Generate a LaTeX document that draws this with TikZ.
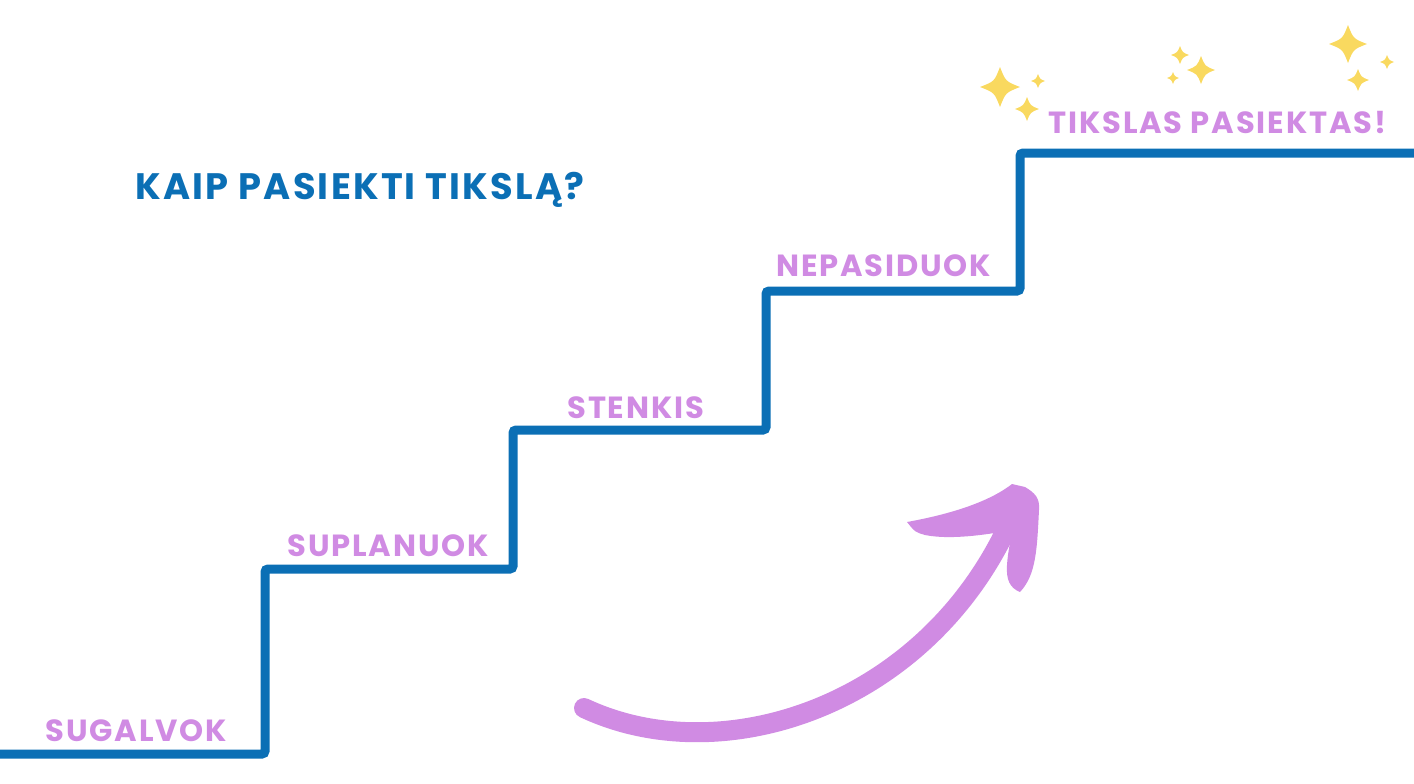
\documentclass[tikz,border=0pt]{standalone}
\usepackage{fontspec}
\setmainfont{Poppins}[BoldFont={* Bold}]
\definecolor{stairblue}{HTML}{0B6FB5}
\definecolor{lilac}{HTML}{D08BE3}
\definecolor{gold}{HTML}{F9D95F}
\newcommand{\sparkle}[3]{% x y r
  \fill[gold] (#1,#2-#3) .. controls (#1+0.28*#3,#2-0.28*#3) .. (#1+#3,#2)
    .. controls (#1+0.28*#3,#2+0.28*#3) .. (#1,#2+#3)
    .. controls (#1-0.28*#3,#2+0.28*#3) .. (#1-#3,#2)
    .. controls (#1-0.28*#3,#2-0.28*#3) .. (#1,#2-#3) -- cycle;}
\begin{document}
\begin{tikzpicture}[x=0.5pt,y=-0.5pt,
  stairline/.style={draw=stairblue,line width=4.5pt,rounded corners=1.5pt},
  steplabel/.style={anchor=base west,inner sep=0pt,text=lilac,font=\fontsize{15.3}{18}\selectfont\bfseries\addfontfeatures{LetterSpace=6}},
  titlelabel/.style={anchor=base west,inner sep=0pt,text=stairblue,font=\fontsize{18.4}{22}\selectfont\bfseries\addfontfeatures{LetterSpace=6}}]
\useasboundingbox (0,0) rectangle (1414,783);
% stairs
\draw[stairline] (-10,754) -- (265,754) -- (265,569) -- (513,569) -- (513,430)
  -- (766,430) -- (766,291) -- (1020,291) -- (1020,153) -- (1430,153);
% labels
\node[titlelabel] (title) at (135,199) {KAIP PASIEKTI TIKSLĄ?};
\node[steplabel] (s1) at (45,741) {SUGALVOK};
\node[steplabel] (s2) at (287,556) {SUPLANUOK};
\node[steplabel] (s3) at (567,418) {STENKIS};
\node[steplabel] (s4) at (776,276) {NEPASIDUOK};
\node[steplabel] (s5) at (1048,133) {TIKSLAS PASIEKTAS!};
% sparkles
\sparkle{1000}{87}{20}
\sparkle{1038}{81}{7}
\sparkle{1027}{109}{12}
\sparkle{1180}{55}{9}
\sparkle{1201}{70}{14}
\sparkle{1173}{78}{6}
\sparkle{1348}{44}{19}
\sparkle{1387}{62}{7}
\sparkle{1358}{80}{11}
% arrow shaft
\draw[lilac,line width=10pt,line cap=round] (584,708) .. controls (720,772) and (920,708) .. (1006,530);
% arrow head
\fill[lilac] (907,522) .. controls (940,516) and (985,505) .. (1012,484) -- (1025,487)
  .. controls (1035,493) and (1040,498) .. (1039,510)
  .. controls (1037,550) and (1036,575) .. (1020,592)
  .. controls (1010,588) and (1006,580) .. (1007,565)
  .. controls (1008,550) and (1011,540) .. (1012,530)
  .. controls (985,535) and (950,540) .. (925,535)
  .. controls (915,532) .. cycle;
\end{tikzpicture}
\end{document}
